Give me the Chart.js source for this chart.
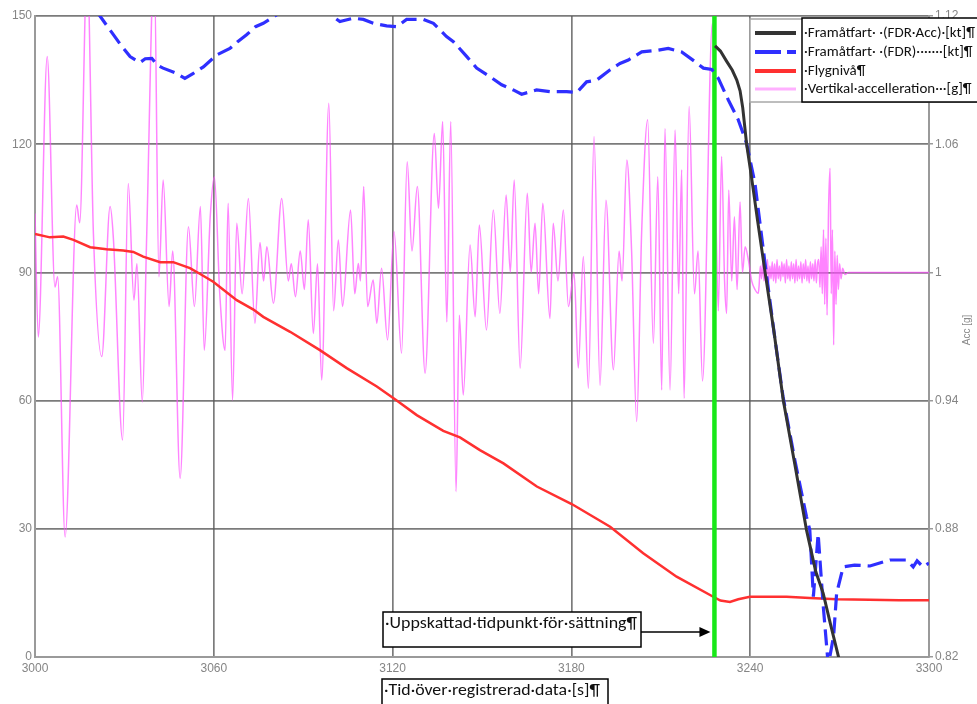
<!DOCTYPE html>
<html><head><meta charset="utf-8">
<script src="https://cdn.jsdelivr.net/npm/chart.js@4.4.0/dist/chart.umd.min.js"></script>
<style>html,body{margin:0;padding:0;background:#fff;overflow:hidden}#wrap{width:977px;height:704px;position:relative}</style>
</head><body><div id="wrap"><canvas id="c" width="977" height="704"></canvas></div>
<script>
// ---------- DATA ----------
const xTickLabels = ['3000','3060','3120','3180','3240','3300'];
const leftTickLabels = ['0','30','60','90','120','150'];
const rightTickLabels = ['0.82','0.88','0.94','1','1.06','1.12'];
const legendLabels = ['·Framåtfart· ·(FDR·Acc)·[kt]¶','·Framåtfart· ·(FDR)·······[kt]¶','·Flygnivå¶','·Vertikal·accelleration···[g]¶'];
const annotationText = '·Uppskattad·tidpunkt·för·sättning¶';
const xAxisTitle = '·Tid·över·registrerad·data·[s]¶';
const rightAxisTitle = 'Acc [g]';
const landingTime = [3228, 3228];
const landingLevel = [0, 150];

const speedAccTime = [3228.2,3230,3232,3234,3235.5,3236.6,3237.5,3238.8,3240.5,3242.5,3245,3248,3251.1,3255,3258.9,3262,3264.5,3267,3270];
const speedAccKt   = [143,141.8,139.5,137.3,135,132.5,128.5,120,112,102,90,76,60.1,45,29.7,20,14.9,7.5,-1];

const speedFdrTime = [3000,3010,3018,3021.8,3025.2,3028.5,3031.9,3035.2,3037,3039.2,3041,3043,3047.5,3050.3,3053,3056.5,3061,3065.4,3068,3071,3074,3076.6,3080.5,3085,3092,3098,3100.7,3102.3,3106.8,3110.2,3113.5,3118,3121.4,3124.7,3130.3,3133.7,3138.1,3140.4,3144.9,3148.2,3152.7,3156.6,3160.5,3163.3,3168.3,3172.8,3178.4,3181.8,3185.1,3188.5,3193,3196.3,3199.1,3203.6,3208.1,3212.5,3217,3221.5,3224.3,3227.1,3229.3,3232.7,3236,3238.8,3241.6,3245,3248,3251,3255,3258.9,3260,3261.2,3262.8,3264.5,3266.2,3268,3269,3271.2,3275,3280.2,3286.9,3292.5,3294.7,3296,3298,3300];
const speedFdrKt   = [157,156,153,150,146.7,143.5,140.5,139.1,140,140.1,138.5,137.8,136.6,135.4,136.5,138.1,140.9,142.4,144,145.6,147.5,148.3,150,152,153,151,149.5,148.7,149.5,149.2,148.3,147.7,147.5,149.2,149.2,148.3,145.2,144,140.5,137.8,135.8,133.9,132.7,131.7,132.7,132.3,132.3,132.1,134.6,135,137.4,138.9,139.7,141.6,141.9,142.4,141.6,139.3,137.8,137.5,135.4,130.3,125.7,120.2,110.8,92,76,61,46,32.8,29.7,14.1,28.8,12,-2,5,14.9,21.1,21.5,21.3,22.7,22.7,21.1,22.5,21.1,22];

const flightLevelTime = [3000,3005,3009.5,3012.9,3018.5,3024,3029.6,3033,3036.3,3042,3046.4,3052,3055,3059.8,3067.7,3073.3,3076.6,3085.6,3095.6,3104.6,3114.7,3120.8,3128.1,3137,3142.6,3149.3,3157.2,3168.4,3180.1,3193,3204.1,3215.3,3227.6,3230,3233.2,3236,3239.9,3252.2,3260,3269,3280,3290,3300];
const flightLevel     = [99,98.2,98.4,97.6,95.9,95.4,95.1,94.8,93.7,92.4,92.4,91,89.8,87.8,83.5,81.3,79.6,76.1,71.8,67.6,63.3,60.3,56.6,52.9,51.4,48.4,45.3,39.9,35.8,30.5,24.3,18.8,14.1,13.2,12.9,13.5,14.1,14.1,13.8,13.5,13.4,13.3,13.3];

const vertAccTime = [3000,3001.1,3004.1,3006.7,3007.6,3010.1,3014,3015,3017.5,3019.6,3022.4,3025.2,3026.3,3029.4,3031.3,3033.2,3034.2,3036,3037.5,3040,3041.6,3043,3045,3046.2,3048.7,3051.5,3053.5,3055.5,3056.8,3058.8,3060.2,3062,3063.8,3064.8,3066.3,3067.7,3069.5,3071.6,3073.8,3075.5,3076.7,3077.8,3080,3082.8,3085,3086,3087.4,3089,3090.4,3091.7,3093.4,3094.8,3096.2,3098.6,3100.2,3101.8,3103.2,3105.9,3107.3,3108.5,3109.2,3110.3,3111.6,3113.5,3114.7,3116.3,3118.3,3120.5,3123,3124.9,3126.5,3128.3,3130.9,3134,3135.4,3136.8,3138.2,3139.5,3141.3,3142.4,3143.7,3146,3147.7,3149.1,3151.5,3153.8,3156,3158.1,3159.5,3160.8,3162.8,3165.2,3166.5,3167.8,3169,3170.4,3172.8,3173.9,3175.5,3177.3,3179,3180.9,3182.3,3184,3185.7,3187.6,3189.6,3191.6,3194.1,3196,3197,3198.6,3200.2,3201.9,3203.6,3205.6,3207.5,3209,3210.3,3211.4,3213.1,3214.8,3216,3217,3217.8,3219.5,3221.3,3222.5,3224,3227.3,3228.6,3229.3,3230.4,3231.4,3232.1,3232.8,3233.8,3234.7,3235.6,3236.6,3237.4,3238.3,3239.4,3240.5,3241.6,3242.7,
  3243.0,3243.4,3243.8,3244.2,3244.6,3245.0,3245.4,3245.8,3246.2,3246.6,3247.0,3247.4,3247.8,3248.2,3248.6,3249.0,3249.4,3249.8,3250.2,3250.6,3251.0,3251.4,3251.8,3252.2,3252.6,3253.0,3253.4,3253.8,3254.2,3254.6,3255.0,3255.4,3255.8,3256.2,3256.6,3257.0,3257.4,3257.8,3258.2,3258.6,3259.0,3259.4,3259.8,3260.2,3260.6,3261.0,3261.4,3261.8,3262.2,3262.6,
  3263.0,3263.4,3263.8,3264.2,3264.6,3265.0,3265.4,3265.8,3266.3,3266.8,3267.2,3267.6,3268.0,3268.4,3268.8,3269.2,3269.6,3270.0,3270.5,3271.0,3271.8,3273,3300];
const vertAccG = [1.0276,0.9698,1.101,0.9932,0.998,0.8762,1.0316,1.0232,1.144,1.0182,0.9606,1.0308,1.016,0.9216,1.0416,0.987,1.004,0.9394,1.0182,1.144,0.998,1.0432,0.984,1.01,0.9036,1.0214,0.984,1.0308,0.9636,1.026,1.0448,0.99,0.9636,1.0324,0.9402,1.023,0.99,1.0346,0.9762,1.014,0.996,1.012,0.9856,1.0346,0.996,1.004,0.9886,1.01,0.992,1.0246,0.9714,1.004,0.9496,1.0792,0.982,1.0152,0.984,1.0292,0.99,1.0042,0.996,1.0402,0.984,0.9964,0.9762,1.002,0.9684,1.019,0.9622,1.0518,1.01,1.0402,0.9528,1.065,1.03,1.0706,0.9768,1.0706,0.8974,0.98,0.9426,1.0128,0.9792,1.0222,0.973,1.0292,0.9808,1.0362,1.0,1.0432,0.9552,1.037,1.0,1.023,0.99,1.0324,0.9784,1.023,0.996,1.0292,0.984,0.9998,0.9552,1.0074,0.9458,1.0636,0.9472,1.0338,0.9544,1.01,0.996,1.0526,1.01,0.9302,1.02,1.0714,0.9668,1.0448,0.945,1.0674,0.945,1.0666,0.99,1.048,0.941,1.0776,0.99,1.01,0.9492,1.1166,1.02,0.982,1.0542,0.996,0.9808,1.0386,0.996,1.026,0.992,1.033,1.0,1.012,1.0058,0.996,0.992,0.9902,
  0.994,1.003,0.997,1.005,0.996,1.004,0.998,1.006,0.995,1.003,0.997,1.005,0.996,1.004,0.995,1.006,0.997,1.003,0.996,1.005,0.998,1.004,0.995,1.006,0.997,1.003,0.996,1.005,0.997,1.004,0.995,1.006,0.996,1.003,0.997,1.005,0.995,1.004,0.997,1.006,0.996,1.003,0.995,1.005,0.997,1.004,0.996,1.006,0.995,1.004,
  1.006,0.993,1.012,0.99,1.02,0.985,1.016,0.98,1.03,1.0488,0.99,1.02,0.966,1.01,0.985,1.008,0.992,1.004,0.997,1.002,0.999,1.0,1.0];

// ---------- STYLE ----------
const C_BLACK = '#333333', C_BLUE = '#2f2fff', C_RED = '#ff3030', C_PINK = 'rgba(255,80,255,0.7)', C_GREEN = '#18e818';
const GRID = 'rgba(90,90,90,0.8)';
const TICK_COLOR = '#858585';
const WORD_FONT = 'Carlito, Lato, "Open Sans", sans-serif';
const pts = (xs, ys) => xs.map((x, i) => ({x: x, y: ys[i]}));

function fitText(ctx, text, x, y, w, font) {
  ctx.font = font;
  const m = ctx.measureText(text).width;
  ctx.save(); ctx.translate(x, y); ctx.scale(w / m, 1); ctx.fillText(text, 0, 0); ctx.restore();
}

const overlay = {
  id: 'overlay',
  afterDraw(chart) {
    const ctx = chart.ctx, xs = chart.scales.x;
    ctx.save();
    // annotation box
    ctx.fillStyle = '#fff'; ctx.strokeStyle = '#000'; ctx.lineWidth = 1.5;
    ctx.fillRect(383, 612, 258, 35); ctx.strokeRect(383, 612, 258, 35);
    ctx.fillStyle = '#111'; ctx.textBaseline = 'middle'; ctx.textAlign = 'left';
    fitText(ctx, annotationText, 385, 624, 252, '16px ' + WORD_FONT);
    // arrow
    const ax = xs.getPixelForValue(landingTime[0]) - 4;
    ctx.strokeStyle = '#000'; ctx.lineWidth = 1.5;
    ctx.beginPath(); ctx.moveTo(641, 632); ctx.lineTo(ax - 8, 632); ctx.stroke();
    ctx.fillStyle = '#000';
    ctx.beginPath(); ctx.moveTo(ax, 632); ctx.lineTo(ax - 11, 627); ctx.lineTo(ax - 11, 637); ctx.closePath(); ctx.fill();
    // x axis title box
    ctx.fillStyle = '#fff'; ctx.fillRect(382, 679, 226, 30); ctx.strokeRect(382, 679, 226, 30);
    ctx.fillStyle = '#111';
    fitText(ctx, xAxisTitle, 384, 691, 216, '16px ' + WORD_FONT);
    // right axis title
    ctx.save(); ctx.translate(967, 330); ctx.rotate(-Math.PI / 2);
    ctx.fillStyle = '#8a8a8a'; ctx.font = '10px "Liberation Sans", Arial, sans-serif'; ctx.textAlign = 'center';
    ctx.fillText(rightAxisTitle, 0, 0); ctx.restore();
    // legend frame
    ctx.fillStyle = '#fff'; ctx.strokeStyle = '#a8a8a8'; ctx.lineWidth = 1.5;
    ctx.fillRect(750, 19, 230, 83); ctx.strokeRect(750, 19, 230, 83);
    const rows = [33, 52, 71, 89];
    const samples = [
      {c: C_BLACK, w: 4, d: []}, {c: C_BLUE, w: 4, d: [26, 6]}, {c: C_RED, w: 4, d: []}, {c: '#ffb0ff', w: 3, d: []}
    ];
    samples.forEach((s, i) => {
      ctx.strokeStyle = s.c; ctx.lineWidth = s.w; ctx.setLineDash(s.d);
      ctx.beginPath(); ctx.moveTo(755, rows[i]); ctx.lineTo(796, rows[i]); ctx.stroke();
    });
    ctx.setLineDash([]);
    // text box
    ctx.fillStyle = '#fff'; ctx.strokeStyle = '#000'; ctx.lineWidth = 1.5;
    ctx.fillRect(802, 18, 190, 84); ctx.strokeRect(802, 18, 190, 84);
    ctx.fillStyle = '#111';
    ctx.font = '15px ' + WORD_FONT;
    const sc = 171 / ctx.measureText(legendLabels[0]).width;
    legendLabels.forEach((t, i) => {
      ctx.save(); ctx.translate(804, rows[i]); ctx.scale(sc, 1); ctx.fillText(t, 0, 0); ctx.restore();
    });
    ctx.restore();
  }
};

new Chart(document.getElementById('c'), {
  type: 'line',
  data: {
    datasets: [
      {label: legendLabels[0], data: pts(speedAccTime, speedAccKt), borderColor: C_BLACK, borderWidth: 3, yAxisID: 'y'},
      {label: legendLabels[1], data: pts(speedFdrTime, speedFdrKt), borderColor: C_BLUE, borderWidth: 3.2, borderDash: [16, 7], yAxisID: 'y'},
      {label: 'landing', data: pts(landingTime, landingLevel), borderColor: C_GREEN, borderWidth: 4.5, yAxisID: 'y'},
      {label: legendLabels[2], data: pts(flightLevelTime, flightLevel), borderColor: C_RED, borderWidth: 2.5, yAxisID: 'y'},
      {label: legendLabels[3], data: pts(vertAccTime, vertAccG), borderColor: C_PINK, borderWidth: 1.5, yAxisID: 'y1', cubicInterpolationMode: 'monotone'}
    ]
  },
  options: {
    responsive: false, animation: false, devicePixelRatio: 1,
    layout: {padding: {top: 16, left: 0, right: 0, bottom: 0}},
    elements: {point: {radius: 0}, line: {tension: 0, fill: false}},
    plugins: {legend: {display: false}, tooltip: {enabled: false}},
    scales: {
      x: {
        type: 'linear', min: 3000, max: 3300,
        ticks: {stepSize: 60, color: TICK_COLOR, padding: 4, maxRotation: 0,
          font: {family: '"Liberation Sans", Arial, sans-serif', size: 12},
          callback: (v) => xTickLabels[Math.round((v - 3000) / 60)]},
        grid: {color: GRID, lineWidth: 1.7, drawTicks: false},
        border: {display: true, color: '#9a9a9a', width: 2},
        afterFit: (s) => { s.height = 47; }
      },
      y: {
        position: 'left', min: 0, max: 150,
        ticks: {stepSize: 30, color: TICK_COLOR, padding: 3,
          font: {family: '"Liberation Sans", Arial, sans-serif', size: 12},
          callback: (v) => leftTickLabels[Math.round(v / 30)]},
        grid: {color: GRID, lineWidth: 1.7, drawTicks: false},
        border: {display: true, color: '#9a9a9a', width: 2},
        afterFit: (s) => { s.width = 35; }
      },
      y1: {
        position: 'right', min: 0.82, max: 1.12,
        ticks: {stepSize: 0.06, color: TICK_COLOR, padding: 2,
          font: {family: '"Liberation Sans", Arial, sans-serif', size: 12},
          callback: (v) => rightTickLabels[Math.round((v - 0.82) / 0.06)]},
        grid: {drawOnChartArea: false, drawTicks: true, tickLength: 4, color: '#9a9a9a', lineWidth: 1.5},
        border: {display: true, color: '#9a9a9a', width: 2},
        afterFit: (s) => { s.width = 48; }
      }
    }
  },
  plugins: [overlay]
});
</script>
</body></html>
